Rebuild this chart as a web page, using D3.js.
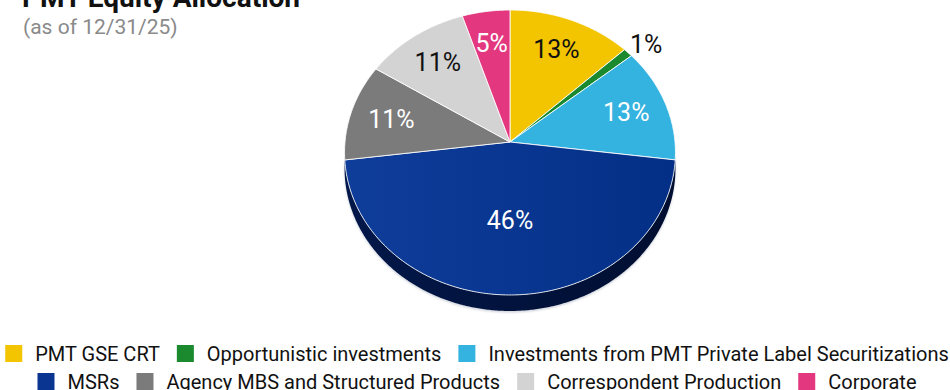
<!DOCTYPE html>
<html>
<head>
<meta charset="utf-8">
<script src="https://cdn.jsdelivr.net/npm/d3@7"></script>
<style>
  html, body { margin: 0; padding: 0; background: #fff; }
  svg { display: block; font-family: Roboto, "Noto Sans", sans-serif; }
</style>
</head>
<body>
<svg id="chart" width="950" height="390"></svg>
<script>
// ---- data ----
const categories = [
  "PMT GSE CRT",
  "Opportunistic investments",
  "Investments from PMT Private Label Securitizations",
  "MSRs",
  "Agency MBS and Structured Products",
  "Correspondent Production",
  "Corporate"
];
const values = [13, 1, 13, 46, 11, 11, 5];
const colors = ["#F3C400", "#1B8A2F", "#34B2E0", "#0A3692", "#7B7B7B", "#D3D3D3", "#E3387F"];
const labelColors = ["#111", "#111", "#fff", "#fff", "#fff", "#111", "#fff"];
const title = "PMT Equity Allocation";
const subtitle = "(as of 12/31/25)";

// ---- layout ----
const svg = d3.select("#chart");
const cx = 510, cy = 142;     // apex of the pie (projected centre)
const k = 165;                // horizontal radius
const ks = 141.7;             // vertical scale
const u = 0.0737;             // perspective factor
const depth = 16;

function proj(r, a) {
  const X = r * Math.sin(a), Z = -r * Math.cos(a);
  const w = 1 - u * Z;
  return [cx + k * X / w, cy + ks * Z / w];
}

const pie = d3.pie().sort(null).value(d => d).startAngle(0).endAngle(2 * Math.PI);
const arcs = pie(values);

const defs = svg.append("defs");
const gBlue = defs.append("linearGradient").attr("id", "gBlue").attr("x1", 0).attr("x2", 1).attr("y1", 0).attr("y2", 0);
gBlue.append("stop").attr("offset", 0).attr("stop-color", "#0F3D9A");
gBlue.append("stop").attr("offset", 1).attr("stop-color", "#032F86");
const gSide = defs.append("linearGradient").attr("id", "gSide").attr("x1", 0).attr("x2", 1).attr("y1", 0).attr("y2", 0);
gSide.append("stop").attr("offset", 0).attr("stop-color", "#03184A");
gSide.append("stop").attr("offset", 1).attr("stop-color", "#000E30");
const blur = defs.append("filter").attr("id", "soft").attr("x", "-10%").attr("y", "-10%").attr("width", "120%").attr("height", "130%");
blur.append("feGaussianBlur").attr("stdDeviation", 1.2);

// side (extrusion) of the front half
const a1 = Math.acos(-u), a2 = 2 * Math.PI - a1;
const sideAngles = d3.range(a1, a2, Math.PI / 360).concat([a2]);
const topPts = sideAngles.map(a => proj(1, a));
const botPts = sideAngles.slice().reverse().map(a => { const p = proj(1, a); return [p[0], p[1] + depth]; });
const line = d3.line();
svg.append("path")
  .attr("d", line(topPts.concat(botPts)) + "Z")
  .attr("fill", "#cfd3dc").attr("filter", "url(#soft)").attr("transform", "translate(0,1.5)");
svg.append("path")
  .attr("d", line(topPts.concat(botPts)) + "Z")
  .attr("fill", "url(#gSide)");

// top face slices
function slicePath(d) {
  const n = Math.max(2, Math.ceil((d.endAngle - d.startAngle) / (Math.PI / 360)));
  const pts = [[cx, cy]];
  for (let i = 0; i <= n; i++) {
    pts.push(proj(1, d.startAngle + (d.endAngle - d.startAngle) * i / n));
  }
  return line(pts) + "Z";
}
svg.append("g").selectAll("path").data(arcs).join("path")
  .attr("d", slicePath)
  .attr("fill", (d, i) => i === 3 ? "url(#gBlue)" : colors[i])
  .attr("stroke", "#fff").attr("stroke-opacity", 0.85).attr("stroke-width", 1)
  .attr("stroke-linejoin", "round");

// labels
function labelRadius(d) {
  const frac = d.value / d3.sum(values);
  if (frac < 0.03) return 1.13;
  if (frac > 0.4) return 0.535;
  return 0.745;
}
function labelAngle(d) {
  const frac = d.value / d3.sum(values);
  const mid = (d.startAngle + d.endAngle) / 2;
  return frac < 0.03 ? mid + 0.03 : mid;
}
svg.append("g").selectAll("text").data(arcs).join("text")
  .each(function(d) {
    const p = proj(labelRadius(d), labelAngle(d));
    d3.select(this).attr("x", p[0]).attr("y", p[1]);
  })
  .attr("text-anchor", "middle").attr("dominant-baseline", "central")
  .attr("font-size", 25)
  .attr("fill", (d, i) => labelColors[i])
  .text(d => Math.round(d.value / d3.sum(values) * 100) + "%");

// title
svg.append("text").attr("x", 22).attr("y", 7)
  .attr("font-size", 28).attr("font-weight", "bold").attr("fill", "#111").text(title);
svg.append("text").attr("x", 23).attr("y", 34)
  .attr("font-size", 21).attr("fill", "#8a8a8a").text(subtitle);

// legend
const sq = 17, txtOff = 30, gap = 17, maxW = 945;
const lg = svg.append("g");
const items = categories.map((c, i) => {
  const g = lg.append("g");
  g.append("rect").attr("width", sq).attr("height", sq).attr("fill", colors[i]);
  const t = g.append("text").attr("x", txtOff).attr("y", 15.5).attr("font-size", 20).attr("fill", "#111").text(c);
  return { g, w: txtOff + t.node().getComputedTextLength() };
});
const rows = [];
let cur = [], curW = 0;
items.forEach(it => {
  const add = cur.length ? gap + it.w : it.w;
  if (cur.length && curW + add > maxW) { rows.push({ items: cur, w: curW }); cur = [it]; curW = it.w; }
  else { cur.push(it); curW += add; }
});
if (cur.length) rows.push({ items: cur, w: curW });
rows.forEach((r, ri) => {
  let x = 477 - r.w / 2;
  r.items.forEach(it => {
    it.g.attr("transform", `translate(${x},${345 + 28 * ri})`);
    x += it.w + gap;
  });
});
</script>
</body>
</html>
